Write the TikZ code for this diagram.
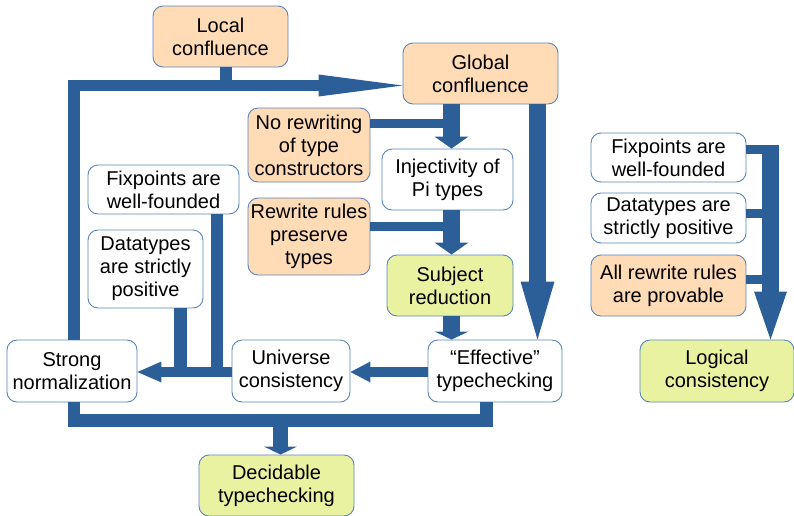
\documentclass[tikz,border=0pt]{standalone}
\usepackage{fontspec}
\setmainfont{Liberation Sans}
\usetikzlibrary{arrows.meta}
\definecolor{flow}{HTML}{2C5F98}
\definecolor{rim}{HTML}{5B84BD}
\definecolor{peach}{HTML}{FFDBB6}
\definecolor{lime}{HTML}{E8F2A1}
\begin{document}
\begin{tikzpicture}[x=1pt,y=-1pt,
  box/.style={draw=rim, line width=0.9pt, rounded corners=10pt, align=center,
    inner sep=0pt, font=\fontsize{20}{23}\selectfont},
  hyp/.style={box, fill=peach},
  goal/.style={box, fill=lime},
  plain/.style={box, fill=white},
  wire/.style={draw=flow, line width=#1},
  tip/.style n args={2}{-{Triangle[length=#1,width=#2,line width=0pt]}}
]
\useasboundingbox (0,0) rectangle (794,515);

% statements
\node[hyp,  minimum width=135pt, minimum height=61pt] (loc)   at (220.5,36.5) {Local\\confluence};
\node[hyp,  minimum width=155pt, minimum height=61pt] (glob)  at (480.5,73.5) {Global\\confluence};
\node[hyp,  minimum width=122pt, minimum height=74pt] (norew) at (309,145)    {No rewriting\\of type\\constructors};
\node[plain,minimum width=131pt, minimum height=61pt] (inj)   at (447.5,179.5){Injectivity of\\Pi types};
\node[plain,minimum width=151pt, minimum height=49pt] (fixL)  at (163.5,189.5){Fixpoints are\\well-founded};
\node[hyp,  minimum width=122pt, minimum height=77pt] (rwp)   at (309,236.5)  {Rewrite rules\\preserve\\types};
\node[plain,minimum width=115pt, minimum height=78pt] (datL)  at (145.5,269)  {Datatypes\\are strictly\\positive};
\node[goal, minimum width=126pt, minimum height=61pt] (subj)  at (450,285.5)  {Subject\\reduction};
\node[plain,minimum width=134pt, minimum height=62pt] (eff)   at (495,371)    {“Effective”\\typechecking};
\node[plain,minimum width=118pt, minimum height=62pt] (univ)  at (291,371)    {Universe\\consistency};
\node[plain,minimum width=130pt, minimum height=62pt] (sn)    at (72,371)     {Strong\\normalization};
\node[goal, minimum width=155pt, minimum height=61pt] (dec)   at (276.5,485.5){Decidable\\typechecking};
\node[plain,minimum width=155pt, minimum height=49pt] (fixR)  at (668.5,157.5){Fixpoints are\\well-founded};
\node[plain,minimum width=155pt, minimum height=50pt] (datR)  at (668.5,218)  {Datatypes are\\strictly positive};
\node[hyp,  minimum width=155pt, minimum height=61pt] (allR)  at (668.5,285.5){All rewrite rules\\are provable};
\node[goal, minimum width=154pt, minimum height=62pt] (logic) at (717,371)    {Logical\\consistency};

% bus columns and rows
\coordinate (cL)   at (74,0);
\coordinate (cLoc) at (225.5,0);
\coordinate (cM)   at (451.5,0);
\coordinate (cG)   at (537.5,0);
\coordinate (cE)   at (486.5,0);
\coordinate (cD)   at (280.5,0);
\coordinate (cDa)  at (180.5,0);
\coordinate (cF)   at (216.5,0);
\coordinate (cR)   at (770.5,0);
\coordinate (cRr)  at (779,0);
\coordinate (rowA) at (0,85.5);
\coordinate (rowB) at (0,420.5);
\coordinate (rowC) at (0,372);
\coordinate (rowN) at (0,123.5);
\coordinate (rowP) at (0,226);
\coordinate (topR) at (0,145);
\coordinate (r1)   at (0,149.5);
\coordinate (r2)   at (0,213.5);
\coordinate (r3)   at (0,279.5);

% strong normalization + local confluence give global confluence
\draw[wire=11.5pt, tip={84pt}{22pt}] (sn.north -| cL) |- (glob.west |- rowA);
\draw[wire=12pt] (loc.south -| cLoc) -- (cLoc |- rowA);

% strong normalization + effective typechecking give decidability
\draw[wire=12.5pt] (sn.south -| cL) |- (cE |- rowB) -- (eff.south -| cE);
\draw[wire=15pt, tip={8pt}{33pt}] (cD |- rowB) -- (dec.north -| cD);

% central chain
\draw[wire=17pt, tip={12pt}{34pt}] (glob.south -| cM) -- (inj.north -| cM);
\draw[wire=17pt, tip={12pt}{34pt}] (inj.south -| cM) -- (subj.north -| cM);
\draw[wire=17pt, tip={8pt}{34pt}] (subj.south -| cM) -- (eff.north -| cM);
\draw[wire=9pt] (norew.east |- rowN) -- (cM |- rowN);
\draw[wire=9pt] (rwp.east |- rowP) -- (cM |- rowP);
\draw[wire=17pt, tip={58pt}{34pt}] (glob.south -| cG) -- (eff.north -| cG);

% towards strong normalization
\draw[wire=10pt, tip={20pt}{21pt}] (eff.west |- rowC) -- (univ.east |- rowC);
\draw[wire=10pt, tip={24pt}{21pt}] (univ.west |- rowC) -- (sn.east |- rowC);
\draw[wire=13pt] (datL.south -| cDa) -- (cDa |- rowC);
\draw[wire=12pt] (fixL.south -| cF) -- (cF |- rowC);

% logical consistency
\draw[wire=17pt, tip={48pt}{33pt}] (cR |- topR) -- (logic.north -| cR);
\draw[wire=9pt] (fixR.east |- r1) -- (cRr |- r1);
\draw[wire=9pt] (datR.east |- r2) -- (cRr |- r2);
\draw[wire=9pt] (allR.east |- r3) -- (cRr |- r3);
\end{tikzpicture}
\end{document}
